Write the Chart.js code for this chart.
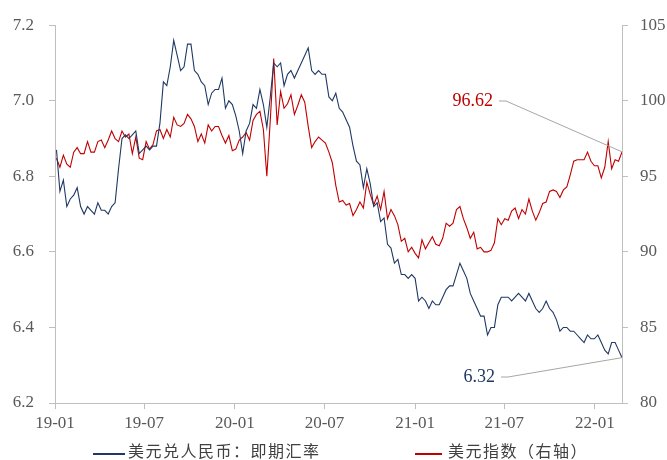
<!DOCTYPE html>
<html>
<head>
<meta charset="utf-8">
<script src="https://cdn.jsdelivr.net/npm/chart.js@4.4.1/dist/chart.umd.min.js"></script>
<style>
  html, body { margin: 0; padding: 0; background: #fff; }
  #wrap { width: 667px; height: 460px; }
</style>
</head>
<body>
<div id="wrap"><canvas id="fxChart" width="667" height="460"></canvas></div>
<script>
// Weekly (Friday) readings, first one 2019-01-04
const cnyLabel = '美元兑人民币：即期汇率';
const dxyLabel = '美元指数（右轴）';

const cny2019 = [6.87, 6.76, 6.79, 6.72, 6.74, 6.75, 6.77, 6.72, 6.70, 6.72,
                 6.71, 6.70, 6.73, 6.71, 6.71, 6.70, 6.72, 6.73, 6.82, 6.90,
                 6.91, 6.90, 6.91, 6.92, 6.86, 6.87, 6.88, 6.87, 6.88, 6.88,
                 6.94, 7.05, 7.04, 7.09, 7.16, 7.12, 7.08, 7.09, 7.15, 7.15,
                 7.08, 7.07, 7.05, 7.04, 6.99, 7.02, 7.03, 7.03, 7.06, 6.98,
                 7.00, 6.99];
const cny2020 = [6.96, 6.92, 6.86, 6.92, 6.94, 6.99, 6.98, 7.03, 6.99, 6.93,
                 7.01, 7.10, 7.09, 7.10, 7.04, 7.07, 7.08, 7.06, 7.08, 7.10,
                 7.12, 7.14, 7.08, 7.07, 7.08, 7.07, 7.07, 7.01, 7.00, 7.02,
                 6.98, 6.97, 6.95, 6.93, 6.88, 6.84, 6.83, 6.77, 6.82, 6.78,
                 6.72, 6.73, 6.68, 6.69, 6.62, 6.61, 6.57, 6.58, 6.54, 6.54,
                 6.53, 6.54];
const cny2021 = [6.53, 6.47, 6.48, 6.47, 6.45, 6.47, 6.46, 6.46, 6.48, 6.50,
                 6.51, 6.51, 6.54, 6.57, 6.55, 6.53, 6.49, 6.47, 6.45, 6.43,
                 6.43, 6.38, 6.40, 6.40, 6.46, 6.48, 6.48, 6.48, 6.47, 6.48,
                 6.49, 6.48, 6.47, 6.49, 6.47, 6.45, 6.44, 6.45, 6.47, 6.45,
                 6.44, 6.42, 6.39, 6.40, 6.40, 6.39, 6.39, 6.38, 6.37, 6.36,
                 6.38, 6.37, 6.37];
const cny2022 = [6.38, 6.36, 6.34, 6.33, 6.36, 6.36, 6.34, 6.32];

const dxy2019 = [96.2, 95.6, 96.4, 95.8, 95.6, 96.6, 96.9, 96.5, 96.5, 97.3,
                 96.6, 96.6, 97.3, 97.4, 96.9, 97.4, 98.0, 97.5, 97.3, 98.0,
                 97.6, 97.8, 96.5, 97.6, 96.2, 96.1, 97.3, 96.8, 97.1, 98.0,
                 98.1, 97.5, 98.1, 97.6, 98.9, 98.4, 98.3, 98.5, 99.1, 98.8,
                 98.3, 97.3, 97.8, 97.2, 98.4, 98.0, 98.3, 98.3, 97.7, 97.2,
                 97.7, 96.7];
const dxy2020 = [96.8, 97.4, 97.6, 97.9, 97.4, 98.7, 99.1, 99.3, 98.1, 95.0,
                 98.7, 102.8, 98.4, 100.6, 99.5, 99.8, 100.4, 99.1, 99.7, 100.4,
                 99.9, 98.3, 96.9, 97.3, 97.6, 97.4, 97.2, 96.6, 95.9, 94.4,
                 93.3, 93.4, 93.1, 93.2, 92.4, 92.8, 93.3, 92.9, 94.6, 93.8,
                 93.1, 93.7, 92.8, 94.0, 92.2, 92.8, 92.4, 91.8, 90.7, 90.9,
                 90.0, 90.3];
const dxy2021 = [89.9, 89.6, 90.8, 90.2, 90.6, 91.0, 90.5, 90.4, 90.9, 91.9,
                 91.7, 91.9, 92.8, 93.0, 92.2, 91.6, 90.9, 91.3, 90.2, 90.3,
                 90.0, 90.0, 90.1, 90.6, 92.2, 91.8, 92.2, 92.1, 92.7, 92.9,
                 92.2, 92.8, 92.5, 93.5, 92.7, 92.1, 92.6, 93.2, 93.3, 94.0,
                 94.1, 94.0, 93.6, 94.1, 94.3, 95.1, 96.0, 96.1, 96.1, 96.1,
                 96.6, 96.0, 95.7];
const dxy2022 = [95.7, 94.9, 95.6, 97.3, 95.5, 96.1, 96.0, 96.62];

const usdCny = [...cny2019, ...cny2020, ...cny2021, ...cny2022];
const dollarIndex = [...dxy2019, ...dxy2020, ...dxy2021, ...dxy2022];

// x axis = days since 2019-01-01
const tickDays = [0, 181, 365, 547, 731, 912, 1096];
const tickLabels = ['19-01', '19-07', '20-01', '20-07', '21-01', '21-07', '22-01'];
const leftTicks = [6.2, 6.4, 6.6, 6.8, 7.0, 7.2];
const rightTicks = [80, 85, 90, 95, 100, 105];
const lastDay = 1151;

const toPoints = arr => arr.map((v, i) => ({ x: 3 + 7 * i, y: v }));

const navy = '#1f3864';
const red = '#c00000';
const axisGrey = '#bfbfbf';
const serif = '"Liberation Serif", "Times New Roman", serif';
const cjk = '"Noto Sans CJK SC", "Liberation Serif", sans-serif';

// last value callouts + legend under the axis
const extrasPlugin = {
    id: 'extras',
    afterDraw(chart) {
        const ctx = chart.ctx;
        const callouts = [
            { ds: 1, color: red, tx: 493, ty: 101 },
            { ds: 0, color: navy, tx: 495, ty: 377 }
        ];
        callouts.forEach(c => {
            const meta = chart.getDatasetMeta(c.ds);
            const pt = meta.data[meta.data.length - 1];
            const values = chart.data.datasets[c.ds].data;
            const v = values[values.length - 1].y;
            ctx.save();
            ctx.strokeStyle = '#a6a6a6';
            ctx.lineWidth = 1;
            ctx.beginPath();
            ctx.moveTo(c.tx + 6, c.ty);
            ctx.lineTo(c.tx + 13, c.ty);
            ctx.lineTo(pt.x, pt.y);
            ctx.stroke();
            ctx.fillStyle = c.color;
            ctx.font = '18px ' + serif;
            ctx.textAlign = 'right';
            ctx.textBaseline = 'middle';
            ctx.fillText(v.toFixed(2), c.tx, c.ty);
            ctx.restore();
        });

        const items = [
            { ds: 0, x0: 93, x1: 125, tx: 128 },
            { ds: 1, x0: 415, x1: 442, tx: 448 }
        ];
        const ly = 451;
        items.forEach(it => {
            const d = chart.data.datasets[it.ds];
            ctx.save();
            ctx.strokeStyle = d.borderColor;
            ctx.lineWidth = 2;
            ctx.beginPath();
            ctx.moveTo(it.x0, ly + 3);
            ctx.lineTo(it.x1, ly + 3);
            ctx.stroke();
            ctx.fillStyle = '#404040';
            ctx.font = '16px ' + cjk;
            ctx.textAlign = 'left';
            ctx.textBaseline = 'middle';
            ctx.letterSpacing = '1.5px';
            ctx.fillText(d.label, it.tx, ly);
            ctx.restore();
        });
    }
};

const ctx = document.getElementById('fxChart').getContext('2d');

const fxChart = new Chart(ctx, {
    type: 'line',
    data: {
        datasets: [
            {
                label: cnyLabel,
                data: toPoints(usdCny),
                yAxisID: 'y',
                borderColor: navy,
                borderWidth: 1.1,
                pointRadius: 0,
                tension: 0
            },
            {
                label: dxyLabel,
                data: toPoints(dollarIndex),
                yAxisID: 'y1',
                borderColor: red,
                borderWidth: 1.1,
                pointRadius: 0,
                tension: 0
            }
        ]
    },
    options: {
        responsive: false,
        animation: false,
        layout: { padding: { top: 20, left: 0, right: 0, bottom: 0 } },
        plugins: {
            legend: { display: false },
            tooltip: { enabled: false }
        },
        scales: {
            x: {
                type: 'linear',
                min: 0,
                max: lastDay,
                afterBuildTicks: scale => {
                    scale.ticks = tickDays.map(v => ({ value: v }));
                },
                afterFit: scale => { scale.height = 57; },
                grid: { drawOnChartArea: false, drawTicks: true, tickLength: 6, color: axisGrey },
                border: { color: axisGrey },
                ticks: {
                    autoSkip: false,
                    maxRotation: 0,
                    padding: 4,
                    color: '#595959',
                    font: { family: serif, size: 17 },
                    callback: (value, index) => tickLabels[index]
                }
            },
            y: {
                position: 'left',
                min: 6.2,
                max: 7.2,
                afterBuildTicks: scale => {
                    scale.ticks = leftTicks.map(v => ({ value: v }));
                },
                afterFit: scale => { scale.width = 55; },
                grid: { drawOnChartArea: false, drawTicks: true, tickLength: 6, color: axisGrey },
                border: { color: axisGrey },
                ticks: {
                    padding: 15,
                    color: '#595959',
                    font: { family: serif, size: 17 },
                    callback: value => value.toFixed(1)
                }
            },
            y1: {
                position: 'right',
                min: 80,
                max: 105,
                afterBuildTicks: scale => {
                    scale.ticks = rightTicks.map(v => ({ value: v }));
                },
                afterFit: scale => { scale.width = 45; },
                grid: { drawOnChartArea: false, drawTicks: true, tickLength: 6, color: axisGrey },
                border: { color: axisGrey },
                ticks: {
                    padding: 12,
                    color: '#595959',
                    font: { family: serif, size: 17 },
                    callback: value => String(value)
                }
            }
        }
    },
    plugins: [extrasPlugin]
});
</script>
</body>
</html>
